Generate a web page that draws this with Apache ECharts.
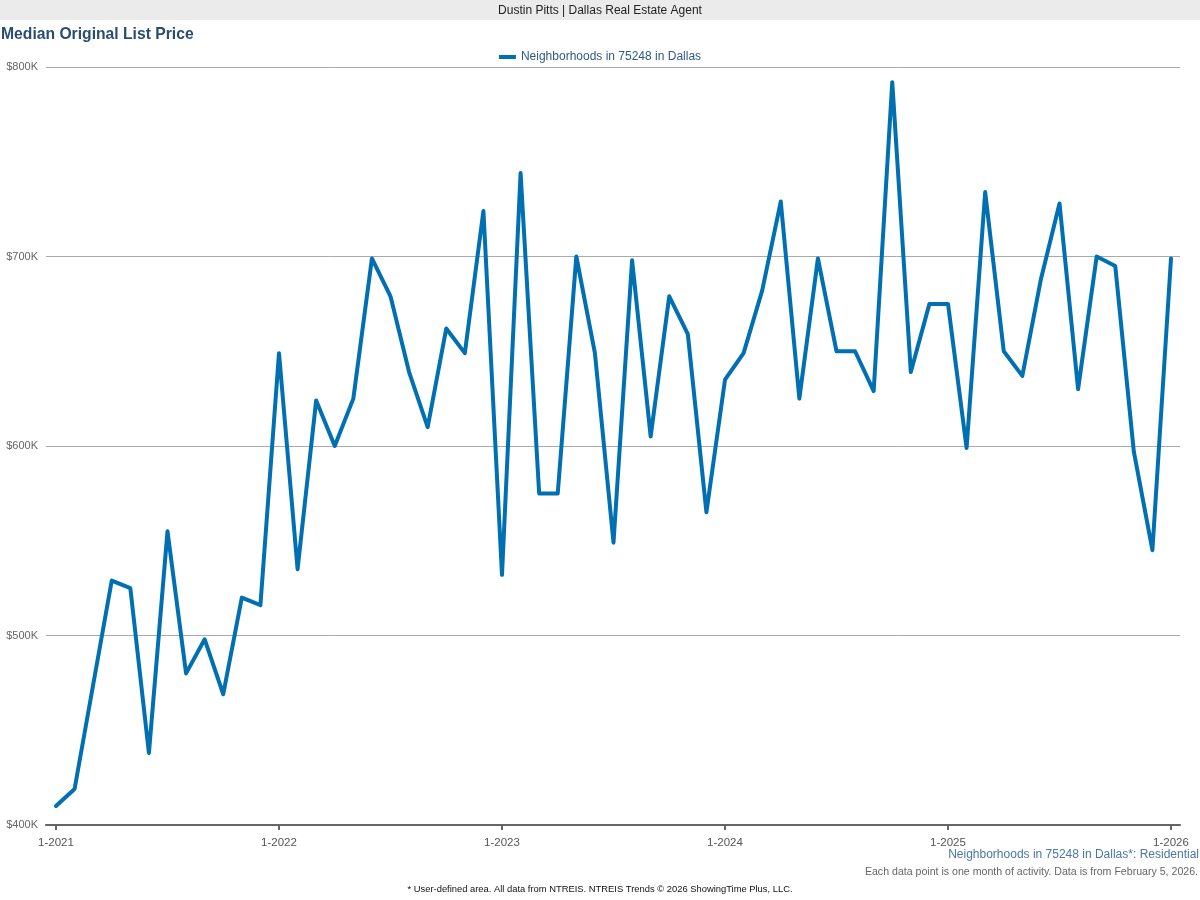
<!DOCTYPE html>
<html>
<head>
<meta charset="utf-8">
<script src="https://cdn.jsdelivr.net/npm/echarts@6/dist/echarts.min.js"></script>
<style>html,body{margin:0;padding:0;background:#fff}#c{width:1200px;height:900px}</style>
</head>
<body>
<div id="c"></div>
<script>
// Monthly median original list price ($K), Jan 2021 .. Jan 2026
const months = ["1-2021","2-2021","3-2021","4-2021","5-2021","6-2021","7-2021","8-2021","9-2021","10-2021","11-2021","12-2021",
"1-2022","2-2022","3-2022","4-2022","5-2022","6-2022","7-2022","8-2022","9-2022","10-2022","11-2022","12-2022",
"1-2023","2-2023","3-2023","4-2023","5-2023","6-2023","7-2023","8-2023","9-2023","10-2023","11-2023","12-2023",
"1-2024","2-2024","3-2024","4-2024","5-2024","6-2024","7-2024","8-2024","9-2024","10-2024","11-2024","12-2024",
"1-2025","2-2025","3-2025","4-2025","5-2025","6-2025","7-2025","8-2025","9-2025","10-2025","11-2025","12-2025",
"1-2026"];
const values = [410,419,474,529,525,438,555,480,498,469,520,516,
649,535,624,600,625,699,679,639,610,662,649,724,
532,744,575,575,700,649,549,698,605,679,659,565,
635,649,682,729,625,699,650,650,629,792,639,675,
675,599,734,650,637,688,728,630,700,695,597,545,
699];
const xTickIdx = [0,12,24,36,48,60];
const yTicks = [400,500,600,700,800];
const seriesName = "Neighborhoods in 75248 in Dallas";

const FONT = "'Liberation Sans', Arial, Helvetica, sans-serif";
const chart = echarts.init(document.getElementById('c'), null, {renderer:'canvas'});
chart.setOption({
  animation:false,
  backgroundColor:'#fff',
  textStyle:{fontFamily:FONT},
  graphic:[
    {type:'rect', shape:{x:0,y:0,width:1200,height:20}, style:{fill:'#ebebeb'}},
    {type:'text', x:600, y:11, style:{text:'Dustin Pitts | Dallas Real Estate Agent', font:'12px '+FONT, fill:'#222', textAlign:'center', textVerticalAlign:'middle'}},
    {type:'text', x:1, y:35, style:{text:'Median Original List Price', font:'bold 15.7px '+FONT, fill:'#2b4d72', textAlign:'left', textVerticalAlign:'middle'}},
    {type:'text', x:1199, y:855, style:{text:'Neighborhoods in 75248 in Dallas*: Residential', font:'12px '+FONT, fill:'#4a77a6', textAlign:'right', textVerticalAlign:'middle'}},
    {type:'text', x:1198, y:872, style:{text:'Each data point is one month of activity. Data is from February 5, 2026.', font:'10.6px '+FONT, fill:'#666', textAlign:'right', textVerticalAlign:'middle'}},
    {type:'text', x:600, y:889, style:{text:'* User-defined area. All data from NTREIS. NTREIS Trends \u00a9 2026 ShowingTime Plus, LLC.', font:'9.4px '+FONT, fill:'#111', textAlign:'center', textVerticalAlign:'middle'}}
  ],
  legend:{
    top:46, left:'center',
    itemWidth:17, itemHeight:4, icon:'rect', itemGap:10,
    textStyle:{color:'#2d5a88', fontSize:12, fontFamily:FONT},
    data:[seriesName]
  },
  grid:{left:46, right:20, top:67, bottom:75, containLabel:false},
  xAxis:{
    type:'value',
    min:-0.538, max:60.484,
    axisLine:{show:true, lineStyle:{color:'#666', width:2}},
    axisTick:{show:true, customValues:xTickIdx, length:5, lineStyle:{color:'#666', width:2}},
    axisLabel:{show:true, customValues:xTickIdx, formatter:(v)=>months[Math.round(v)], color:'#555', fontSize:11.5, margin:12, fontFamily:FONT},
    splitLine:{show:false}
  },
  yAxis:{
    type:'value', min:400, max:800, interval:100,
    axisLine:{show:false}, axisTick:{show:false},
    axisLabel:{formatter:(v)=>'$'+v+'K', color:'#666', fontSize:11, margin:8, fontFamily:FONT, verticalAlign:'middle', padding:[2,0,0,0]},
    splitLine:{show:true, lineStyle:{color:'#aaa', width:1}}
  },
  series:[{
    name:seriesName, type:'line',
    data: values.map((v,i)=>[i,v]),
    showSymbol:false, symbol:'none',
    lineStyle:{color:'#0070b3', width:4, join:'round', cap:'round'},
    itemStyle:{color:'#0070b3'},
    z:3
  }]
});
</script>
</body>
</html>
